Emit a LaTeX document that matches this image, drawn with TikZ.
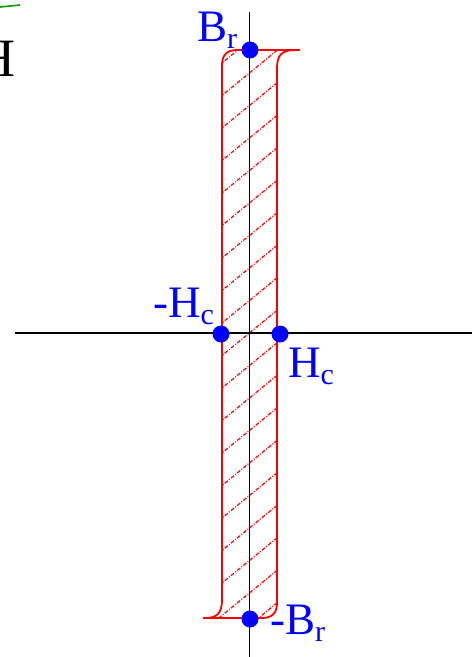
\documentclass[tikz,border=0pt]{standalone}
\usepackage{fontspec}
\setmainfont{Liberation Serif}
\begin{document}
\begin{tikzpicture}[x=1pt,y=-1pt,
  axis/.style={black,line width=1.6pt},
  loopline/.style={red,line width=1.8pt},
  hatchline/.style={red,line width=1.2pt,dash pattern=on 4pt off 1.5pt on 1pt off 1.5pt},
  dot/.style={circle,fill=blue,inner sep=0pt,minimum size=17pt},
  lbl/.style={blue,inner sep=0pt,anchor=base west,font=\fontsize{45}{45}\selectfont}]
\useasboundingbox (0,0) rectangle (472,657);
\clip (0,0) rectangle (472,657);
\fill[white] (0,0) rectangle (472,657);
% partial text at top-left
\draw[green!60!black,line width=1.6pt] (0,7) -- (20,5);
\node[inner sep=0pt,anchor=base east,font=\fontsize{54}{54}\selectfont] (hh) at (16,76) {H};
% axes
\coordinate (vt) at (249.5,12);
\coordinate (vb) at (249.5,657);
\coordinate (hl) at (15,333);
\coordinate (hr) at (472,333);
% hatching
\begin{scope}
\clip (203,618) -- (262,618) .. controls (272,618) and (277,613) .. (277,603) -- (277,68) .. controls (277,55) and (282,50) .. (295,50) -- (300,50) -- (237,50) .. controls (227,50) and (222,55) .. (222,65) -- (222,600) .. controls (222,613) and (217,618) .. (205,618) -- cycle;
\foreach \k in {-5,...,15}{
  \draw[hatchline] (200,{193+32.5*\k+18}) -- (300,{193+32.5*\k-18-46});
}
\end{scope}
% loop outline
\draw[loopline] (203,618) -- (262,618) .. controls (272,618) and (277,613) .. (277,603) -- (277,68) .. controls (277,55) and (282,50) .. (295,50) -- (300,50) -- (237,50) .. controls (227,50) and (222,55) .. (222,65) -- (222,600) .. controls (222,613) and (217,618) .. (205,618) -- cycle;
\draw[axis] (vt) -- (vb);
\draw[axis] (hl) -- (hr);
% points
\node[dot] (br) at (250,50) {};
\node[dot] (mbr) at (250,619) {};
\node[dot] (mhc) at (221,334) {};
\node[dot] (hc) at (280,334) {};
% labels
\node[lbl] (lbr) at (197,41) {B\raisebox{-7pt}{\fontsize{30}{30}\selectfont r}};
\node[lbl] (lmhc) at (153,317) {-H\raisebox{-7pt}{\fontsize{30}{30}\selectfont c}};
\node[lbl] (lhc) at (288,377) {H\raisebox{-7pt}{\fontsize{30}{30}\selectfont c}};
\node[lbl] (lmbr) at (270,634) {-B\raisebox{-7pt}{\fontsize{30}{30}\selectfont r}};
\end{tikzpicture}
\end{document}
